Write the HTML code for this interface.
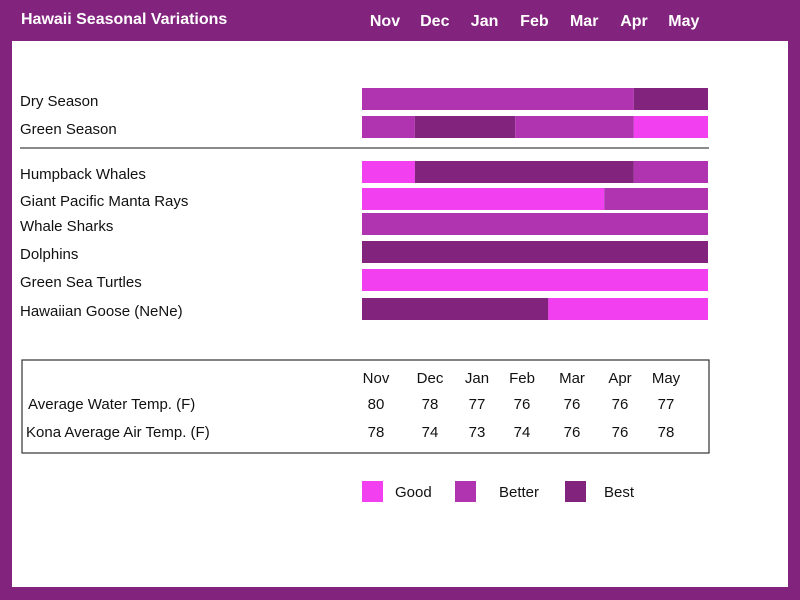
<!DOCTYPE html>
<html><head><meta charset="utf-8"><style>
body{margin:0;width:800px;height:600px;background:#82247d;font-family:"Liberation Sans",sans-serif;position:relative;overflow:hidden}
.t{position:absolute;white-space:nowrap}
.h{color:#fff;font-weight:bold;font-size:16px;top:11px}
#panel{position:absolute;left:12px;top:41px;width:776px;height:546px;background:#fff}
.lab{font-size:15px;color:#111}
.tb{font-size:15px;color:#111}
</style></head><body>
<div class="t h" style="left:21px">Hawaii Seasonal Variations</div>
<div id="panel"></div>
<svg id="svg" width="800" height="600" style="position:absolute;left:0;top:0"></svg>
<script>
const months=["Nov","Dec","Jan","Feb","Mar","Apr","May"];
const rowNames=["Dry Season","Green Season","Humpback Whales","Giant Pacific Manta Rays","Whale Sharks","Dolphins","Green Sea Turtles","Hawaiian Goose (NeNe)"];
const rowY=[88,116,161,188,213,241,269,298];
// segments: [startMonth, endMonth, level] level 0 good,1 better,2 best
const segDry=[[0,5.5,1],[5.5,7,2]];
const segGreen=[[0,1.07,1],[1.07,3.1,2],[3.1,5.5,1],[5.5,7,0]];
const segWhales=[[0,1.07,0],[1.07,5.5,2],[5.5,7,1]];
const segManta=[[0,4.9,0],[4.9,7,1]];
const segSharks=[[0,7,1]];
const segDolphins=[[0,7,2]];
const segTurtles=[[0,7,0]];
const segGoose=[[0,3.77,2],[3.77,7,0]];
const allSegs=[segDry,segGreen,segWhales,segManta,segSharks,segDolphins,segTurtles,segGoose];
const levels=["Good","Better","Best"];
const waterTemp=[80,78,77,76,76,76,77];
const airTemp=[78,74,73,74,76,76,78];
const colors=["#f23ff0","#b033b0","#82247d"];
const X0=362,X1=708;
const xs=m=>X0+(X1-X0)*m/7;
const svg=document.getElementById('svg');
const NS="http://www.w3.org/2000/svg";
function mk(tag,attrs){const e=document.createElementNS(NS,tag);for(const k in attrs)e.setAttribute(k,attrs[k]);svg.appendChild(e);return e;}
function txt(x,y,s,opt){const e=mk('text',Object.assign({x:x,y:y,'font-size':15,fill:'#111','font-family':'Liberation Sans, sans-serif'},opt||{}));e.textContent=s;return e;}
months.forEach((m,i)=>{
  const e=txt(385+i*49.8,26,m,{fill:'#fff','font-weight':'bold','font-size':16,'text-anchor':'middle'});
  
  
});
rowNames.forEach((n,i)=>{
  const y=rowY[i];
  const l=txt(20,y+18,n);
  
  
  allSegs[i].forEach((s,j)=>{
    const r=mk('rect',{x:xs(s[0]),y:y,width:xs(s[1])-xs(s[0]),height:22,fill:colors[s[2]]});
    
    
  });
});
const ln=mk('line',{x1:20,x2:709,y1:148,y2:148,stroke:'#444','stroke-width':1.2});


const box=mk('rect',{x:22,y:360,width:687,height:93,fill:'none',stroke:'#333','stroke-width':1.2});


const tx=[376,430,477,522,572,620,666];
months.forEach((m,i)=>{
  const a=txt(tx[i],383,m,{'text-anchor':'middle'});
  
  
  const b=txt(tx[i],409,String(waterTemp[i]),{'text-anchor':'middle'});
  
  
  const c=txt(tx[i],437,String(airTemp[i]),{'text-anchor':'middle'});
  
  
});
const w=txt(28,409,"Average Water Temp. (F)");


const a2=txt(26,437,"Kona Average Air Temp. (F)");


const lx=[362,455,565],ltx=[395,499,604];
levels.forEach((lv,i)=>{
  const r=mk('rect',{x:lx[i],y:481,width:21,height:21,fill:colors[i]});
  
  
  const t=txt(ltx[i],497,lv);
  
  
});
</script>
</body></html>
